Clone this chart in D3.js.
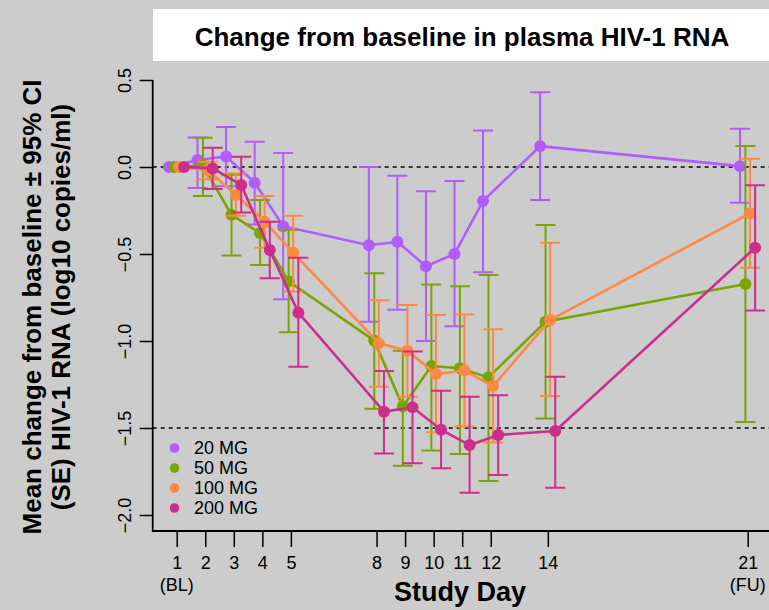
<!DOCTYPE html>
<html><head><meta charset="utf-8">
<script src="https://cdn.jsdelivr.net/npm/d3@7"></script>
<style>body{margin:0;background:#cccccc}svg{display:block}text{font-family:"Liberation Sans",Arial,sans-serif}</style>
</head><body>
<svg id="c" width="769" height="610"></svg>
<script>
const days = [1,2,3,4,5,8,9,10,11,12,14,21];
const dayTicks = [1,2,3,4,5,8,9,10,11,12,14,21];
const yTicks = [0.5,0.0,-0.5,-1.0,-1.5,-2.0];
const seriesNames = ["20 MG","50 MG","100 MG","200 MG"];
const seriesColors = ["#b05cff","#7aa500","#ff8844","#cc2e8c"];
const seriesOffsets = [-0.27,-0.08,0.08,0.26];
const mean20 = [0,0.04,0.06,-0.09,-0.34,-0.45,-0.43,-0.57,-0.50,-0.195,0.12,0.005];
const lo20   = [0,-0.12,-0.11,-0.33,-0.76,-0.89,-0.82,-1.00,-0.915,-0.605,-0.19,-0.205];
const hi20   = [0,0.17,0.23,0.145,0.08,0.0,-0.05,-0.14,-0.08,0.21,0.43,0.22];
const mean50 = [0,0.01,-0.275,-0.38,-0.657,-0.998,-1.377,-1.144,-1.157,-1.209,-0.889,-0.672];
const lo50   = [0,-0.167,-0.508,-0.563,-0.95,-1.389,-1.717,-1.63,-1.65,-1.805,-1.446,-1.466];
const hi50   = [0,0.168,-0.044,-0.19,-0.362,-0.611,-1.056,-0.676,-0.686,-0.62,-0.333,0.121];
const mean100 = [0,-0.017,-0.161,-0.314,-0.492,-1.013,-1.056,-1.19,-1.17,-1.259,-0.879,-0.266];
const lo100   = [0,-0.07,-0.28,-0.464,-0.716,-1.263,-1.32,-1.525,-1.492,-1.584,-1.316,-0.579];
const hi100   = [0,0.03,-0.036,-0.167,-0.28,-0.766,-0.793,-0.85,-0.847,-0.933,-0.435,0.048];
const mean200 = [0,-0.008,-0.103,-0.477,-0.837,-1.406,-1.381,-1.51,-1.598,-1.54,-1.517,-0.464];
const lo200   = [0,-0.126,-0.262,-0.64,-1.148,-1.646,-1.703,-1.732,-1.872,-1.77,-1.843,-0.824];
const hi200   = [0,0.111,0.059,-0.314,-0.521,-1.172,-1.061,-1.286,-1.32,-1.312,-1.205,-0.105];
const refLines = [0,-1.5];

const means = [mean20,mean50,mean100,mean200];
const los = [lo20,lo50,lo100,lo200];
const his = [hi20,hi50,hi100,hi200];

const svg = d3.select("#c");
svg.append("rect").attr("width",769).attr("height",610).attr("fill","#cccccc");

const x = d3.scaleLinear().domain([1,21]).range([176.7,747.7]);
const y = d3.scaleLinear().domain([-2,0.5]).range([515,80]);
const xLeft = 152.7, xRight = 769, yBottom = 531;

// title
svg.append("rect").attr("x",153).attr("y",9).attr("width",616).attr("height",52).attr("fill","#ffffff");
svg.append("text").attr("x",462).attr("y",37).attr("text-anchor","middle").attr("dominant-baseline","central")
  .attr("font-weight","bold").attr("font-size",26).text("Change from baseline in plasma HIV-1 RNA");

// reference lines
svg.selectAll(".ref").data(refLines).enter().append("line")
  .attr("x1",xLeft).attr("x2",xRight).attr("y1",d=>y(d)).attr("y2",d=>y(d))
  .attr("stroke","#000").attr("stroke-width",1.3).attr("stroke-dasharray","4,4");

// axes
const yAxis = d3.axisLeft(y).tickValues(yTicks).tickSize(13).tickFormat(d3.format(".1f"));
const gy = svg.append("g").attr("transform",`translate(${xLeft},0)`).call(yAxis);
gy.select(".domain").remove();
gy.selectAll(".tick line").attr("stroke","#000").attr("stroke-width",1.5);
gy.selectAll(".tick text").attr("font-size",18).attr("fill","#000")
  .attr("x",null).attr("dy",null)
  .attr("transform","translate(-28,0) rotate(-90)")
  .attr("text-anchor","middle").attr("dominant-baseline","central");

const xAxis = d3.axisBottom(x).tickValues(dayTicks).tickSize(16).tickFormat(d3.format("d"));
const gx = svg.append("g").attr("transform",`translate(0,${yBottom})`).call(xAxis);
gx.select(".domain").remove();
gx.selectAll(".tick line").attr("stroke","#000").attr("stroke-width",1.5);
gx.selectAll(".tick text").attr("font-size",18).attr("fill","#000").attr("y",32).attr("dy",null).attr("dominant-baseline","central");

svg.append("path").attr("d",`M${xLeft},${y(0.5)}V${yBottom}H${xRight}`).attr("fill","none").attr("stroke","#000").attr("stroke-width",1.8);

svg.append("text").attr("x",x(1)).attr("y",585).attr("text-anchor","middle").attr("dominant-baseline","central").attr("font-size",18).text("(BL)");
svg.append("text").attr("x",x(21)).attr("y",585).attr("text-anchor","middle").attr("dominant-baseline","central").attr("font-size",18).text("(FU)");
svg.append("text").attr("x",460).attr("y",592).attr("text-anchor","middle").attr("dominant-baseline","central").attr("font-size",27).attr("font-weight","bold").text("Study Day");

const yl = svg.append("text").attr("transform","translate(47,307) rotate(-90)").attr("text-anchor","middle").attr("font-weight","bold").attr("font-size",26);
yl.append("tspan").attr("x",0).attr("dy","-0.25em").text("Mean change from baseline ± 95% CI");
yl.append("tspan").attr("x",0).attr("dy","1.15em").text("(SE) HIV-1 RNA (log10 copies/ml)");

// series
seriesNames.forEach((name,i)=>{
  const g = svg.append("g");
  const pts = days.map((d,j)=>({d, m:means[i][j], lo:los[i][j], hi:his[i][j]}));
  const xp = p => x(p.d + seriesOffsets[i]);
  const bars = pts.filter(p=>p.hi!==p.lo);
  g.selectAll(".eb").data(bars).enter().append("path")
    .attr("d",p=>`M${xp(p)},${y(p.lo)}V${y(p.hi)}M${xp(p)-10},${y(p.lo)}H${xp(p)+10}M${xp(p)-10},${y(p.hi)}H${xp(p)+10}`)
    .attr("stroke",seriesColors[i]).attr("stroke-width",2).attr("fill","none");
  g.append("path").datum(pts).attr("d",d3.line().x(xp).y(p=>y(p.m)))
    .attr("stroke",seriesColors[i]).attr("stroke-width",2.6).attr("fill","none");
  g.selectAll("circle").data(pts).enter().append("circle")
    .attr("cx",xp).attr("cy",p=>y(p.m)).attr("r",6).attr("fill",seriesColors[i]);
});

// legend
const lg = svg.append("g");
seriesNames.forEach((name,i)=>{
  const yy = 448 + i*20;
  lg.append("circle").attr("cx",174.5).attr("cy",yy).attr("r",4.8).attr("fill",seriesColors[i]);
  lg.append("text").attr("x",194).attr("y",yy).attr("dominant-baseline","central").attr("font-size",18).text(name);
});
</script>
</body></html>
